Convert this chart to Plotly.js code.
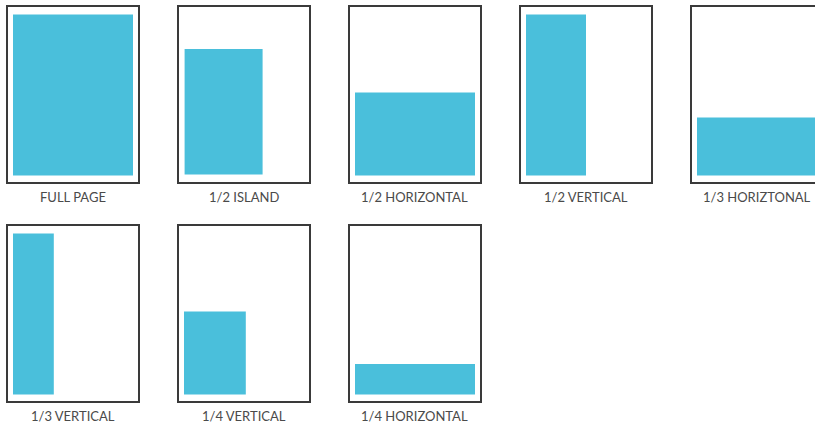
<!DOCTYPE html>
<html>
<head>
<meta charset="utf-8">
<script src="https://cdn.plot.ly/plotly-3.0.1.min.js"></script>
<style>html,body{margin:0;padding:0;background:#fff;}#chart{width:815px;height:423px;}</style>
</head>
<body>
<div id="chart"></div>
<script>
// Ad formats (labels) and the ad area as a fraction of the live page area
const labels = ["FULL PAGE", "1/2 ISLAND", "1/2 HORIZONTAL", "1/2 VERTICAL", "1/3 HORIZTONAL",
                "1/3 VERTICAL", "1/4 VERTICAL", "1/4 HORIZONTAL"];
const adLeft   = [0, 0.005, 0, 0, 0, 0, 0, 0];
const adRight  = [1, 0.655, 1, 0.5, 1, 0.34, 0.515, 1];
const adBottom = [0, 0.006, 0, 0, 0, 0, 0, 0];
const adTop    = [1, 0.785, 0.515, 1, 0.36, 1, 0.515, 0.19];

const W = 815, H = 423;
const perRow = 5, pitch = 171, boxW = 132, boxH = 177;
const rowTop = [6, 225];
const liveW = 120, liveH = 161, padL = 6, padB = 7.5, padT = 8.5;
const lw = 1.5, inset = 0.75;
const blue = "#4abfdb", frame = "#3a3a3a";

const traces = [], layout = {
  width: W, height: H, margin: {l: 0, r: 0, t: 0, b: 0},
  paper_bgcolor: "#fff", plot_bgcolor: "#fff", showlegend: false,
  annotations: []
};

labels.forEach((lab, i) => {
  const row = Math.floor(i / perRow), col = i % perRow;
  const x0 = 7 + pitch * col, x1full = x0 + boxW;
  const clipped = x1full > W;
  const dx0 = x0 + inset, dx1 = clipped ? W : x1full - inset;
  const yT = rowTop[row] + inset, yB = rowTop[row] + boxH - inset;
  const n = i === 0 ? "" : String(i + 1);
  layout["xaxis" + n] = {
    domain: [dx0 / W, dx1 / W], anchor: "y" + n,
    range: [(-padL + inset) / liveW, (-padL + inset) / liveW + (dx1 - dx0) / liveW],
    showgrid: false, zeroline: false, showticklabels: false, ticks: "",
    showline: true, mirror: true, linecolor: frame, linewidth: lw, fixedrange: true
  };
  layout["yaxis" + n] = {
    domain: [1 - yB / H, 1 - yT / H], anchor: "x" + n,
    range: [(-padB + inset) / liveH, 1 + (padT - inset) / liveH],
    showgrid: false, zeroline: false, showticklabels: false, ticks: "",
    showline: true, mirror: !clipped, linecolor: frame, linewidth: lw, fixedrange: true
  };
  traces.push({
    type: "scatter", mode: "lines", xaxis: "x" + n, yaxis: "y" + n,
    x: [adLeft[i], adRight[i], adRight[i], adLeft[i], adLeft[i]],
    y: [adBottom[i], adBottom[i], adTop[i], adTop[i], adBottom[i]],
    fill: "toself", fillcolor: blue, line: {width: 0, color: blue}, hoverinfo: "skip"
  });
  layout.annotations.push({
    text: lab, xref: "paper", yref: "paper",
    x: (x0 + boxW / 2) / W, y: 1 - (rowTop[row] + boxH + 13.5) / H,
    xanchor: "center", yanchor: "middle", showarrow: false,
    font: {family: "Lato, 'Open Sans', sans-serif", size: 13, color: "#4a4a4a"}
  });
});

Plotly.newPlot("chart", traces, layout, {displayModeBar: false, staticPlot: true});
</script>
</body>
</html>
